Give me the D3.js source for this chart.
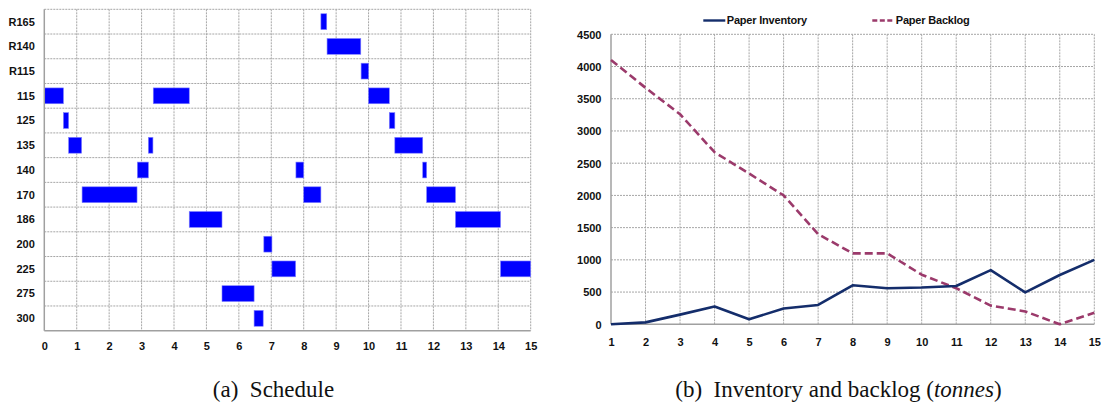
<!DOCTYPE html>
<html>
<head>
<meta charset="utf-8">
<script src="https://cdn.jsdelivr.net/npm/d3@7"></script>
<style>
  html, body { margin: 0; padding: 0; background: #fff; }
  svg { display: block; }
  .tick-label { font-family: "Liberation Sans", Arial, sans-serif; font-weight: bold; font-size: 11px; fill: #111; }
  .caption { font-family: "Liberation Serif", "Times New Roman", serif; font-size: 23px; fill: #111; }
</style>
</head>
<body>
<svg id="fig" width="1101" height="406"></svg>
<script>
// ---- Schedule (a): grade rows and production runs ----
const grades = ["R165", "R140", "R115", "115", "125", "135", "140", "170", "186", "200", "225", "275", "300"];
const runGrade = ["115", "125", "135", "170", "140", "135", "115", "186", "275", "300", "200", "225",
                  "140", "170", "R165", "R140", "R115", "115", "125", "135", "140", "170", "186", "225"];
const runStart = [0, 0.59, 0.75, 1.165, 2.87, 3.21, 3.36, 4.47, 5.48, 6.47, 6.77, 7.02,
                  7.76, 8.0, 8.53, 8.72, 9.77, 10.0, 10.64, 10.81, 11.67, 11.79, 12.68, 14.07];
const runEnd   = [0.59, 0.75, 1.15, 2.86, 3.21, 3.35, 4.47, 5.48, 6.47, 6.75, 7.02, 7.75,
                  8.0, 8.53, 8.71, 9.76, 10.0, 10.64, 10.81, 11.67, 11.79, 12.68, 14.07, 15];
const scheduleTicks = d3.range(0, 16);

// ---- Inventory and backlog (b) ----
const periods = d3.range(1, 16);
const paperInventory = [0, 30, 150, 275, 78, 245, 300, 605, 560, 570, 595, 840, 495, 765, 1000];
const paperBacklog   = [4100, 3670, 3260, 2670, 2340, 2000, 1400, 1100, 1100, 770, 560, 290, 200, 0, 180];
const valueTicks = d3.range(0, 4501, 500);

const svg = d3.select("#fig");
const gridColor = "#a6a6a6";

// ===== Panel (a) =====
const xa = d3.scaleLinear().domain([0, 15]).range([44.3, 530.7]);
const ya = d3.scaleBand().domain(grades).range([9.3, 330.7]).padding(0);
const ga = svg.append("g");

// horizontal row separators
const rowEdges = grades.map(g => ya(g));
ga.selectAll(".hgrid").data(rowEdges).join("line")
  .attr("x1", xa(0)).attr("x2", xa(15))
  .attr("y1", d => d).attr("y2", d => d)
  .attr("stroke", gridColor).attr("stroke-width", 1).attr("stroke-dasharray", "2,1");
// vertical grid
ga.selectAll(".vgrid").data(scheduleTicks.slice(1)).join("line")
  .attr("x1", d => xa(d)).attr("x2", d => xa(d))
  .attr("y1", ya.range()[0]).attr("y2", ya.range()[1])
  .attr("stroke", gridColor).attr("stroke-width", 1).attr("stroke-dasharray", "2,1");

// runs
const inset = ya.bandwidth() * 0.18;
ga.selectAll(".run").data(runGrade.map((g, i) => ({ g, s: runStart[i], e: runEnd[i] }))).join("rect")
  .attr("x", d => xa(d.s))
  .attr("y", d => ya(d.g) + inset)
  .attr("width", d => xa(d.e) - xa(d.s))
  .attr("height", ya.bandwidth() - 2 * inset)
  .attr("fill", "#0000ff")
  .attr("stroke", "#8080ff").attr("stroke-width", 0.6);

// axes
ga.append("line").attr("x1", xa(0)).attr("x2", xa(0)).attr("y1", ya.range()[0]).attr("y2", ya.range()[1])
  .attr("stroke", "#a0a0a0").attr("stroke-width", 1.5);
ga.append("line").attr("x1", xa(0)).attr("x2", xa(15)).attr("y1", ya.range()[1]).attr("y2", ya.range()[1])
  .attr("stroke", "#a0a0a0").attr("stroke-width", 1.5);

const axA = d3.axisBottom(xa).tickValues(scheduleTicks).tickFormat(d3.format("d")).tickSize(0).tickPadding(0);
const gAxA = ga.append("g").attr("transform", `translate(0,${ya.range()[1]})`).call(axA);
gAxA.select(".domain").remove();
gAxA.selectAll("text").attr("class", "tick-label").attr("dy", null).attr("y", 19.5);

const axAY = d3.axisLeft(ya).tickSize(0).tickPadding(0);
const gAxAY = ga.append("g").attr("transform", `translate(${xa(0)},0)`).call(axAY);
gAxAY.select(".domain").remove();
gAxAY.selectAll("text").attr("class", "tick-label").attr("x", -9.5).attr("dy", "0.35em");

// ===== Panel (b) =====
const xb = d3.scaleLinear().domain([1, 15]).range([611, 1094.3]);
const yb = d3.scaleLinear().domain([0, 4500]).range([324.3, 34.3]);
const gb = svg.append("g");

gb.selectAll(".hgrid").data(valueTicks.slice(1)).join("line")
  .attr("x1", xb(1)).attr("x2", xb(15))
  .attr("y1", d => yb(d)).attr("y2", d => yb(d))
  .attr("stroke", gridColor).attr("stroke-width", 1).attr("stroke-dasharray", "2,1");
gb.selectAll(".vgrid").data(periods.slice(1)).join("line")
  .attr("x1", d => xb(d)).attr("x2", d => xb(d))
  .attr("y1", yb(4500)).attr("y2", yb(0))
  .attr("stroke", gridColor).attr("stroke-width", 1).attr("stroke-dasharray", "2,1");

gb.append("line").attr("x1", xb(1)).attr("x2", xb(1)).attr("y1", yb(4500)).attr("y2", yb(0))
  .attr("stroke", "#a0a0a0").attr("stroke-width", 1.5);
gb.append("line").attr("x1", xb(1)).attr("x2", xb(15)).attr("y1", yb(0)).attr("y2", yb(0))
  .attr("stroke", "#a0a0a0").attr("stroke-width", 1.5);

const line = d3.line().x((d, i) => xb(periods[i])).y(d => yb(d));
const invColor = "#142d6b";
const backColor = "#9b3a6b";

gb.append("path").datum(paperBacklog).attr("d", line)
  .attr("fill", "none").attr("stroke", backColor).attr("stroke-width", 2.6)
  .attr("stroke-dasharray", "8,4").attr("stroke-linejoin", "round");
gb.append("path").datum(paperInventory).attr("d", line)
  .attr("fill", "none").attr("stroke", invColor).attr("stroke-width", 2.6)
  .attr("stroke-linejoin", "round");

const axB = d3.axisBottom(xb).tickValues(periods).tickFormat(d3.format("d")).tickSize(0).tickPadding(0);
const gAxB = gb.append("g").attr("transform", `translate(0,${yb(0)})`).call(axB);
gAxB.select(".domain").remove();
gAxB.selectAll("text").attr("class", "tick-label").attr("dy", null).attr("y", 21.5);

const axBY = d3.axisLeft(yb).tickValues(valueTicks).tickFormat(d3.format("d")).tickSize(0).tickPadding(0);
const gAxBY = gb.append("g").attr("transform", `translate(${xb(1)},0)`).call(axBY);
gAxBY.select(".domain").remove();
gAxBY.selectAll("text").attr("class", "tick-label").attr("x", -9.5).attr("dy", "0.35em");

// legend
const legend = [
  { name: "Paper Inventory", color: invColor, dash: null, x: 703.3 },
  { name: "Paper Backlog", color: backColor, dash: "5,2.5", x: 872.3 }
];
const lg = gb.selectAll(".legend").data(legend).join("g")
  .attr("transform", d => `translate(${d.x},20.5)`);
lg.append("line").attr("x1", 0).attr("x2", 22).attr("y1", 0).attr("y2", 0)
  .attr("stroke", d => d.color).attr("stroke-width", 2.4)
  .attr("stroke-dasharray", d => d.dash);
lg.append("text").attr("class", "tick-label").attr("x", 23.5).attr("dy", "0.35em")
  .attr("letter-spacing", "-0.2").text(d => d.name);

// captions
svg.append("text").attr("class", "caption").attr("x", 273.5).attr("y", 396.5).attr("text-anchor", "middle")
  .attr("xml:space", "preserve").text("(a)  Schedule");
const capB = svg.append("text").attr("class", "caption").attr("x", 838.5).attr("y", 396.5).attr("text-anchor", "middle")
  .attr("xml:space", "preserve");
capB.append("tspan").text("(b)  Inventory and backlog (");
capB.append("tspan").attr("font-style", "italic").text("tonnes");
capB.append("tspan").text(")");
</script>
</body>
</html>
